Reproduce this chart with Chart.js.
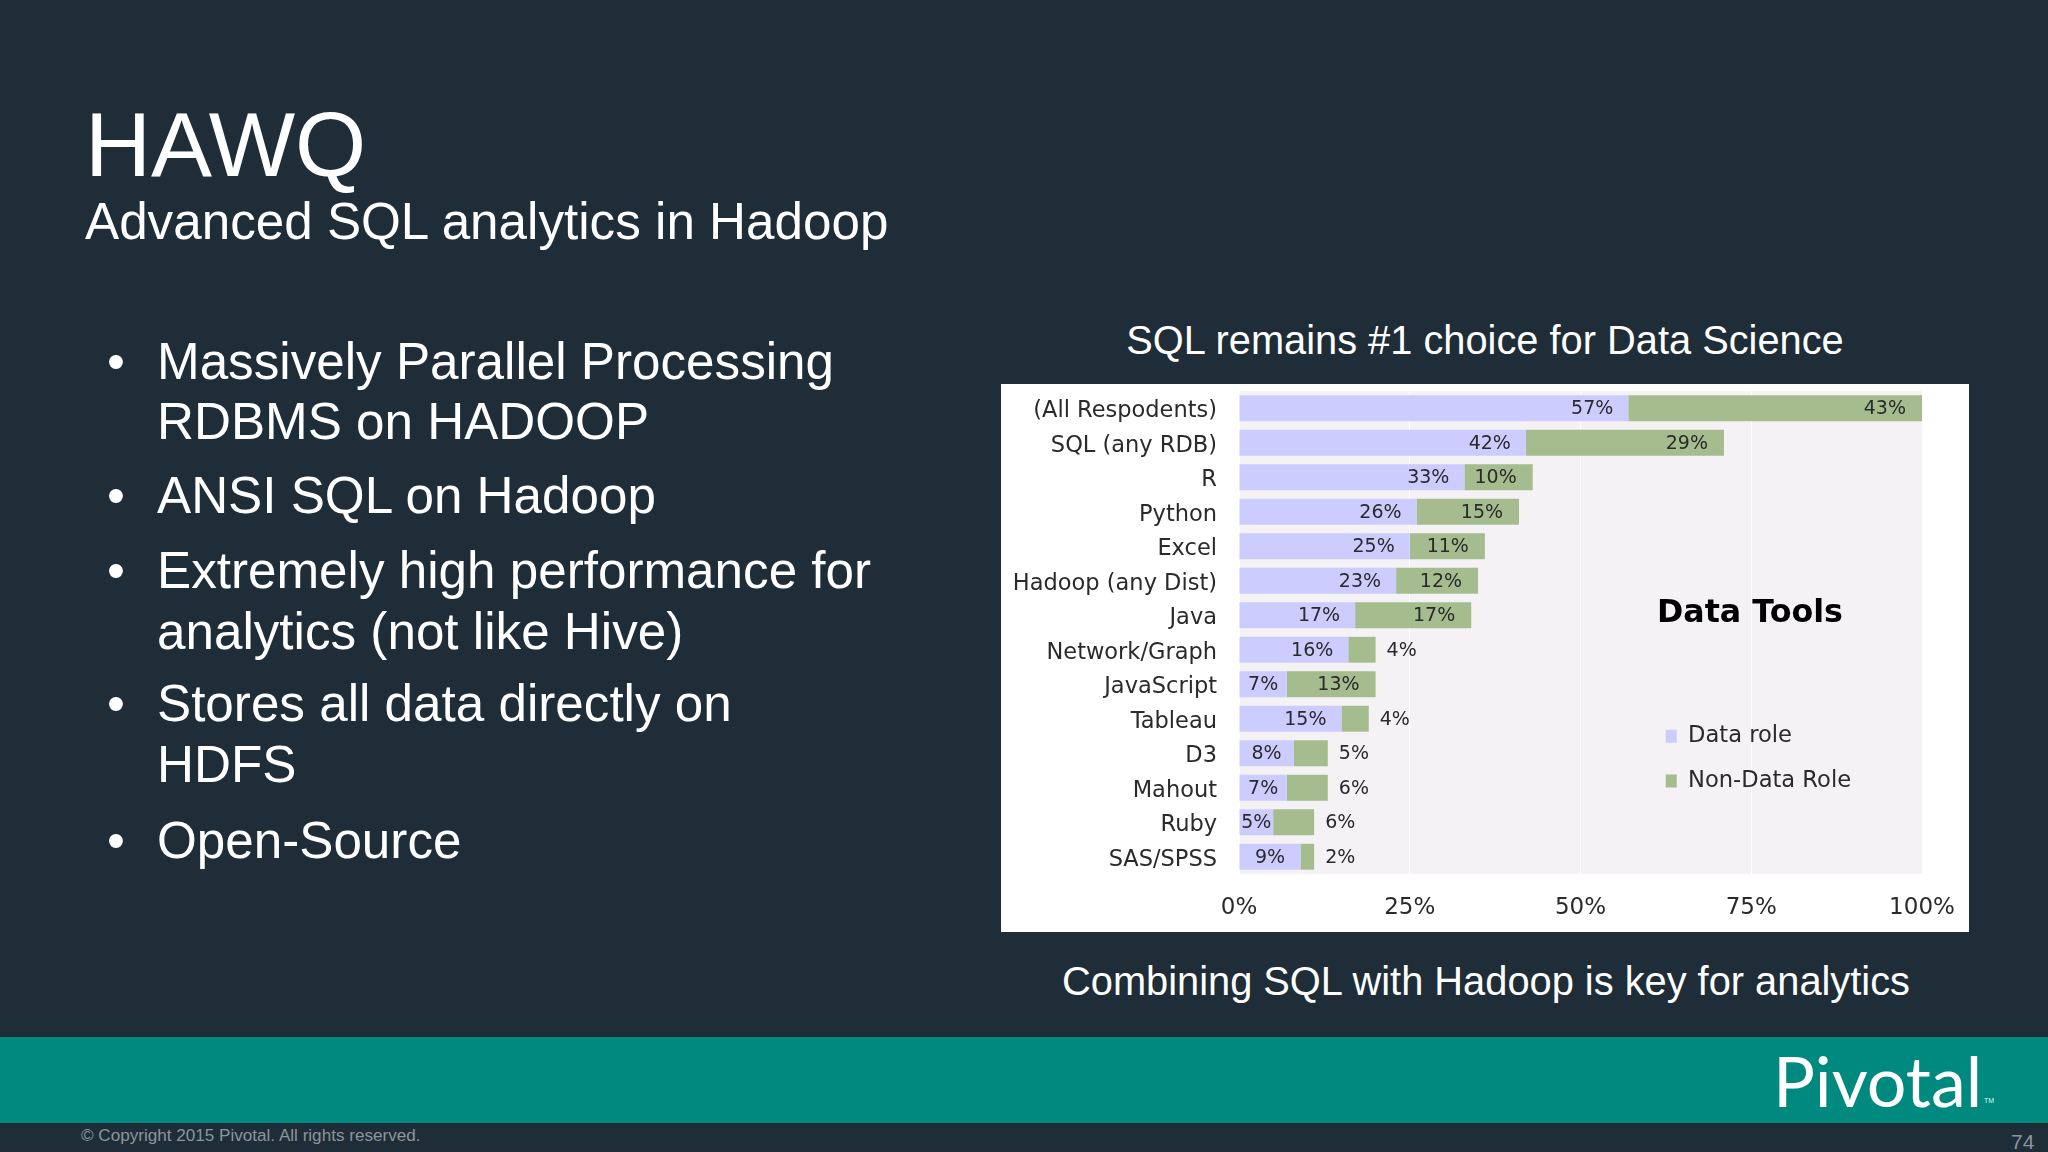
<!DOCTYPE html>
<html><head><meta charset="utf-8">
<style>
html,body{margin:0;padding:0;background:#1f2d38;width:2048px;height:1152px;overflow:hidden}
body{position:relative;font-family:"Liberation Sans",Arial,sans-serif;color:#fff}
.t{position:absolute;white-space:nowrap;line-height:1}
.b{font-size:51.2px}
#box{position:absolute;left:1001px;top:384px;width:968px;height:548px;background:#fff}
#box canvas{filter:blur(0.6px)}
#band{position:absolute;left:0;top:1037px;width:2048px;height:86px;background:#00897f}
</style></head><body>
<div class="t" style="left:85px;top:99px;font-size:91.5px">HAWQ</div>
<div class="t" style="left:85px;top:196px;font-size:51.2px">Advanced SQL analytics in Hadoop</div>
<div class="t b" style="left:107px;top:336px">•</div>
<div class="t b" style="left:157px;top:336px">Massively Parallel Processing</div>
<div class="t b" style="left:157px;top:396px">RDBMS on HADOOP</div>
<div class="t b" style="left:107px;top:470px">•</div>
<div class="t b" style="left:157px;top:470px">ANSI SQL on Hadoop</div>
<div class="t b" style="left:107px;top:545px">•</div>
<div class="t b" style="left:157px;top:545px">Extremely high performance for</div>
<div class="t b" style="left:157px;top:606px">analytics (not like Hive)</div>
<div class="t b" style="left:107px;top:678px">•</div>
<div class="t b" style="left:157px;top:678px">Stores all data directly on</div>
<div class="t b" style="left:157px;top:739px">HDFS</div>
<div class="t b" style="left:107px;top:815px">•</div>
<div class="t b" style="left:157px;top:815px">Open-Source</div>
<div class="t" style="left:1001px;width:968px;text-align:center;top:321px;font-size:39.8px">SQL remains #1 choice for Data Science</div>
<div class="t" style="left:1002px;width:968px;text-align:center;top:962px;font-size:39.8px">Combining SQL with Hadoop is key for analytics</div>
<div id="box"><canvas id="c" width="968" height="548"></canvas></div>
<div id="band"></div>
<div class="t" style="left:1773px;top:1045px;font-family:Lato;font-weight:400;font-size:70px">Pivotal</div>
<div class="t" style="left:1984px;top:1097px;font-size:7px;color:#cfe">TM</div>
<div class="t" style="left:81px;top:1127px;font-size:17.1px;color:#8c959b">© Copyright 2015 Pivotal. All rights reserved.</div>
<div class="t" style="left:2011px;top:1131px;font-size:21px;color:#8c959b">74</div>
<script src="https://cdn.jsdelivr.net/npm/chart.js@4"></script>
<script>
const categories=["(All Respodents)","SQL (any RDB)","R","Python","Excel","Hadoop (any Dist)","Java","Network/Graph","JavaScript","Tableau","D3","Mahout","Ruby","SAS/SPSS"];
const dataRole=[57,42,33,26,25,23,17,16,7,15,8,7,5,9];
const nonDataRole=[43,29,10,15,11,12,17,4,13,4,5,6,6,2];
const xTicks=[0,25,50,75,100];
const chartTitle="Data Tools";

const font='"DejaVu Sans"';
const extras={id:'extras',
 beforeDraw(ch){const a=ch.chartArea,g=ch.ctx;g.save();g.fillStyle='#f4f2f5';g.fillRect(a.left,a.top,a.width,a.height);g.restore();
  ch.scales.y.getLabelItems().forEach(it=>{if(!it.moved){it.options.translation[1]+=3;it.moved=true;}});},
 afterLayout(ch){const l=ch.legend,a=ch.chartArea;const h=l.height;
  l.left=a.left+a.width*0.5926;l.right=l.left+l.width;l.top=a.top+a.height*0.646;l.bottom=l.top+h;},
 afterDatasetsDraw(ch){const g=ch.ctx,a=ch.chartArea;g.save();g.fillStyle='#2a2a2a';g.textBaseline='middle';g.font='19px '+font;
  ch.data.datasets.forEach((d,di)=>{ch.getDatasetMeta(di).data.forEach((b,i)=>{
    const v=d.data[i];let x,al;
    if(di===0){if(v<10){x=(b.x+b.base)/2;al='center';}else{x=b.x-15;al='right';}}
    else{if(v<=6){x=b.x+11;al='left';}else{x=b.x-16;al='right';}}
    g.textAlign=al;g.fillText(v+'%',x,b.y+1);});});
  g.fillStyle='#000';g.font='bold 31.7px '+font;g.textAlign='left';
  g.fillText(chartTitle,a.left+a.width*0.612,a.top+a.height*0.461);
  g.restore();}
};
new Chart(document.getElementById('c'),{type:'bar',plugins:[extras],
 data:{labels:categories,datasets:[
  {label:'Data role',data:dataRole,backgroundColor:'#ccccff',borderWidth:0},
  {label:'Non-Data Role',data:nonDataRole,backgroundColor:'#a5bc8f',borderWidth:0}]},
 options:{indexAxis:'y',responsive:false,animation:false,devicePixelRatio:1,
  layout:{padding:{top:7,right:47,left:0,bottom:0}},
  datasets:{bar:{barPercentage:0.75,categoryPercentage:1}},
  plugins:{tooltip:{enabled:false},title:{display:false},
   legend:{display:true,position:'chartArea',align:'start',labels:{boxWidth:11,boxHeight:13,padding:22,color:'#2a2a2a',font:{family:font,size:22.6}}}},
  scales:{
   x:{stacked:true,min:0,max:100,afterBuildTicks(s){s.ticks=xTicks.map(v=>({value:v}));},
      afterFit(s){s.height=58;s.paddingLeft=0;s.paddingRight=0;},
      grid:{color:'#ffffff',lineWidth:1,drawTicks:false},border:{display:false},
      ticks:{padding:20,maxRotation:0,color:'#2a2a2a',font:{family:font,size:23},callback:v=>v+'%'}},
   y:{stacked:true,afterFit(s){s.width=238;s.paddingTop=0;s.paddingBottom=0;},grid:{display:false},border:{display:false},
      ticks:{padding:14,autoSkip:false,color:'#2a2a2a',font:{family:font,size:22.5}}}
  }}});
</script>
</body></html>
